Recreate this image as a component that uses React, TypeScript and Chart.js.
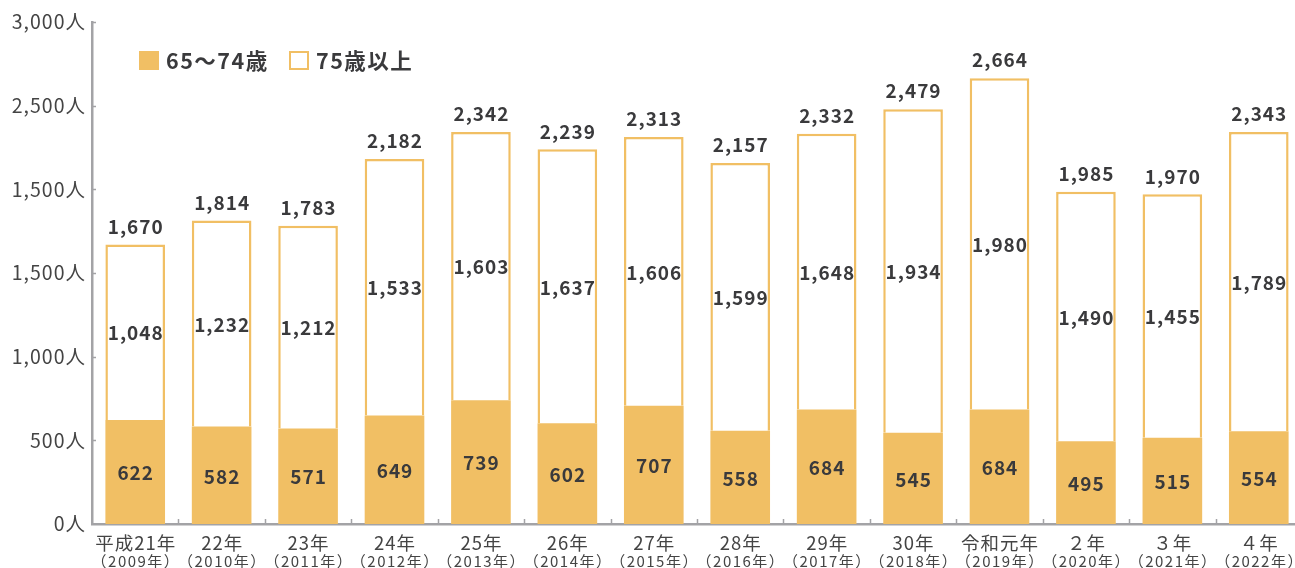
import React, { useEffect, useRef } from "react";
import { Chart, registerables } from "chart.js";

Chart.register(...registerables);

const categories = ["平成21年", "22年", "23年", "24年", "25年", "26年", "27年", "28年", "29年", "30年", "令和元年", "２年", "３年", "４年"];
const westernYears = ["（2009年）", "（2010年）", "（2011年）", "（2012年）", "（2013年）", "（2014年）", "（2015年）", "（2016年）", "（2017年）", "（2018年）", "（2019年）", "（2020年）", "（2021年）", "（2022年）"];
const age65to74 = [622, 582, 571, 649, 739, 602, 707, 558, 684, 545, 684, 495, 515, 554];
const age75plus = [1048, 1232, 1212, 1533, 1603, 1637, 1606, 1599, 1648, 1934, 1980, 1490, 1455, 1789];
const totals = [1670, 1814, 1783, 2182, 2342, 2239, 2313, 2157, 2332, 2479, 2664, 1985, 1970, 2343];
const yTickValues = [0, 500, 1000, 1500, 2000, 2500, 3000];
const yTickLabels = ["0人", "500人", "1,000人", "1,500人", "1,500人", "2,500人", "3,000人"];
const seriesNames = ["65～74歳", "75歳以上"];

const ORANGE = "#F1BF64";
const AXIS = "#A3A3A6";
const TEXT = "#3A3A3C";
const FONT = "'Noto Sans CJK JP', 'Noto Sans', sans-serif";

const fmt = (v: number) => v.toLocaleString("en-US");

const spacingPlugin = {
  id: "spacing",
  beforeDraw(chart: any) {
    chart.ctx.letterSpacing = "1px";
  },
};

const overlayPlugin = {
  id: "overlay",
  afterDatasetsDraw(chart: any) {
    const ctx = chart.ctx;
    const x = chart.scales.x;
    const y = chart.scales.y;
    const area = chart.chartArea;
    ctx.save();

    // axis tick marks (inside)
    ctx.strokeStyle = AXIS;
    ctx.lineWidth = 1.5;
    yTickValues.forEach((v) => {
      if (v === 0) return;
      const py = Math.round(y.getPixelForValue(v)) + 0.5;
      ctx.beginPath();
      ctx.moveTo(area.left, py);
      ctx.lineTo(area.left + 4, py);
      ctx.stroke();
    });
    const step = (area.right - area.left) / categories.length;
    for (let i = 1; i < categories.length; i++) {
      const px = Math.round(x.getPixelForValue(i) - step / 2) + 0.5;
      ctx.beginPath();
      ctx.moveTo(px, area.bottom);
      ctx.lineTo(px, area.bottom - 5);
      ctx.stroke();
    }

    // value labels
    ctx.fillStyle = TEXT;
    ctx.textAlign = "center";
    ctx.textBaseline = "middle";
    ctx.letterSpacing = "1px";
    ctx.font = `bold 19px ${FONT}`;
    const m0 = chart.getDatasetMeta(0);
    const m1 = chart.getDatasetMeta(1);
    m0.data.forEach((el: any, i: number) => {
      ctx.fillText(fmt(age65to74[i]), el.x + 0.5, (el.y + el.base) / 2 + 1);
    });
    m1.data.forEach((el: any, i: number) => {
      ctx.fillText(fmt(age75plus[i]), el.x + 0.5, (el.y + el.base) / 2 + 1);
      ctx.fillText(fmt(totals[i]), el.x + 0.5, y.getPixelForValue(totals[i]) - 18);
    });

    // x labels
    ctx.fillStyle = "#444";
    categories.forEach((c, i) => {
      const px = x.getPixelForValue(i);
      ctx.letterSpacing = "1px";
      ctx.font = `18.5px ${FONT}`;
      ctx.fillText(c, px + 0.5, area.bottom + 19);
      ctx.letterSpacing = "1.5px";
      ctx.font = `15px ${FONT}`;
      ctx.fillText(westernYears[i], px + 0.75, area.bottom + 37);
    });

    // legend
    ctx.textAlign = "left";
    ctx.fillStyle = ORANGE;
    ctx.fillRect(139, 51, 20, 19);
    ctx.strokeStyle = ORANGE;
    ctx.lineWidth = 2;
    ctx.strokeRect(290, 52, 18, 17);
    ctx.fillStyle = TEXT;
    ctx.letterSpacing = "1.5px";
    ctx.font = `bold 21.5px ${FONT}`;
    ctx.fillText(seriesNames[0], 166, 61);
    ctx.fillText(seriesNames[1], 316, 61);

    ctx.restore();
  },
};

export default function App() {
  const ref = useRef<HTMLCanvasElement | null>(null);
  useEffect(() => {
    if (!ref.current) return;
    const chart = new Chart(ref.current, {
      type: "bar",
      data: {
        labels: categories,
        datasets: [
          {
            label: seriesNames[0],
            data: age65to74,
            backgroundColor: ORANGE,
            borderWidth: 0,
            barPercentage: 0.69,
            categoryPercentage: 1,
          },
          {
            label: seriesNames[1],
            data: age75plus,
            backgroundColor: "#FFFFFF",
            borderColor: ORANGE,
            borderWidth: 2.5,
            barPercentage: 0.69,
            categoryPercentage: 1,
          },
        ],
      },
      options: {
        animation: false,
        responsive: false,
        maintainAspectRatio: false,
        layout: { padding: { top: 22, right: 1, left: 0, bottom: 0 } },
        plugins: { legend: { display: false }, tooltip: { enabled: false } },
        scales: {
          x: {
            stacked: true,
            grid: { display: false },
            border: { display: true, color: AXIS, width: 2.5 },
            ticks: { display: false },
            afterFit: (s: any) => {
              s.height = 44;
            },
          },
          y: {
            stacked: true,
            min: 0,
            max: 3000,
            afterBuildTicks: (s: any) => {
              s.ticks = yTickValues.map((v) => ({ value: v }));
            },
            grid: { display: false, drawTicks: false },
            border: { display: true, color: AXIS, width: 2.5 },
            ticks: {
              color: "#444",
              font: { family: FONT, size: 19.5 },
              padding: 6,
              callback: (v: any) => {
                const idx = yTickValues.indexOf(Number(v));
                return idx >= 0 ? yTickLabels[idx] : "";
              },
            },
            afterFit: (s: any) => {
              s.width = 92;
            },
          },
        },
      },
      plugins: [spacingPlugin, overlayPlugin],
    });
    return () => chart.destroy();
  }, []);
  return (
    <div style={{ position: "fixed", left: 0, top: 0, width: 1295, height: 568, overflow: "hidden", background: "#fff" }}>
      <canvas ref={ref} width={1303} height={568} style={{ display: "block", width: 1303, height: 568 }} />
    </div>
  );
}
